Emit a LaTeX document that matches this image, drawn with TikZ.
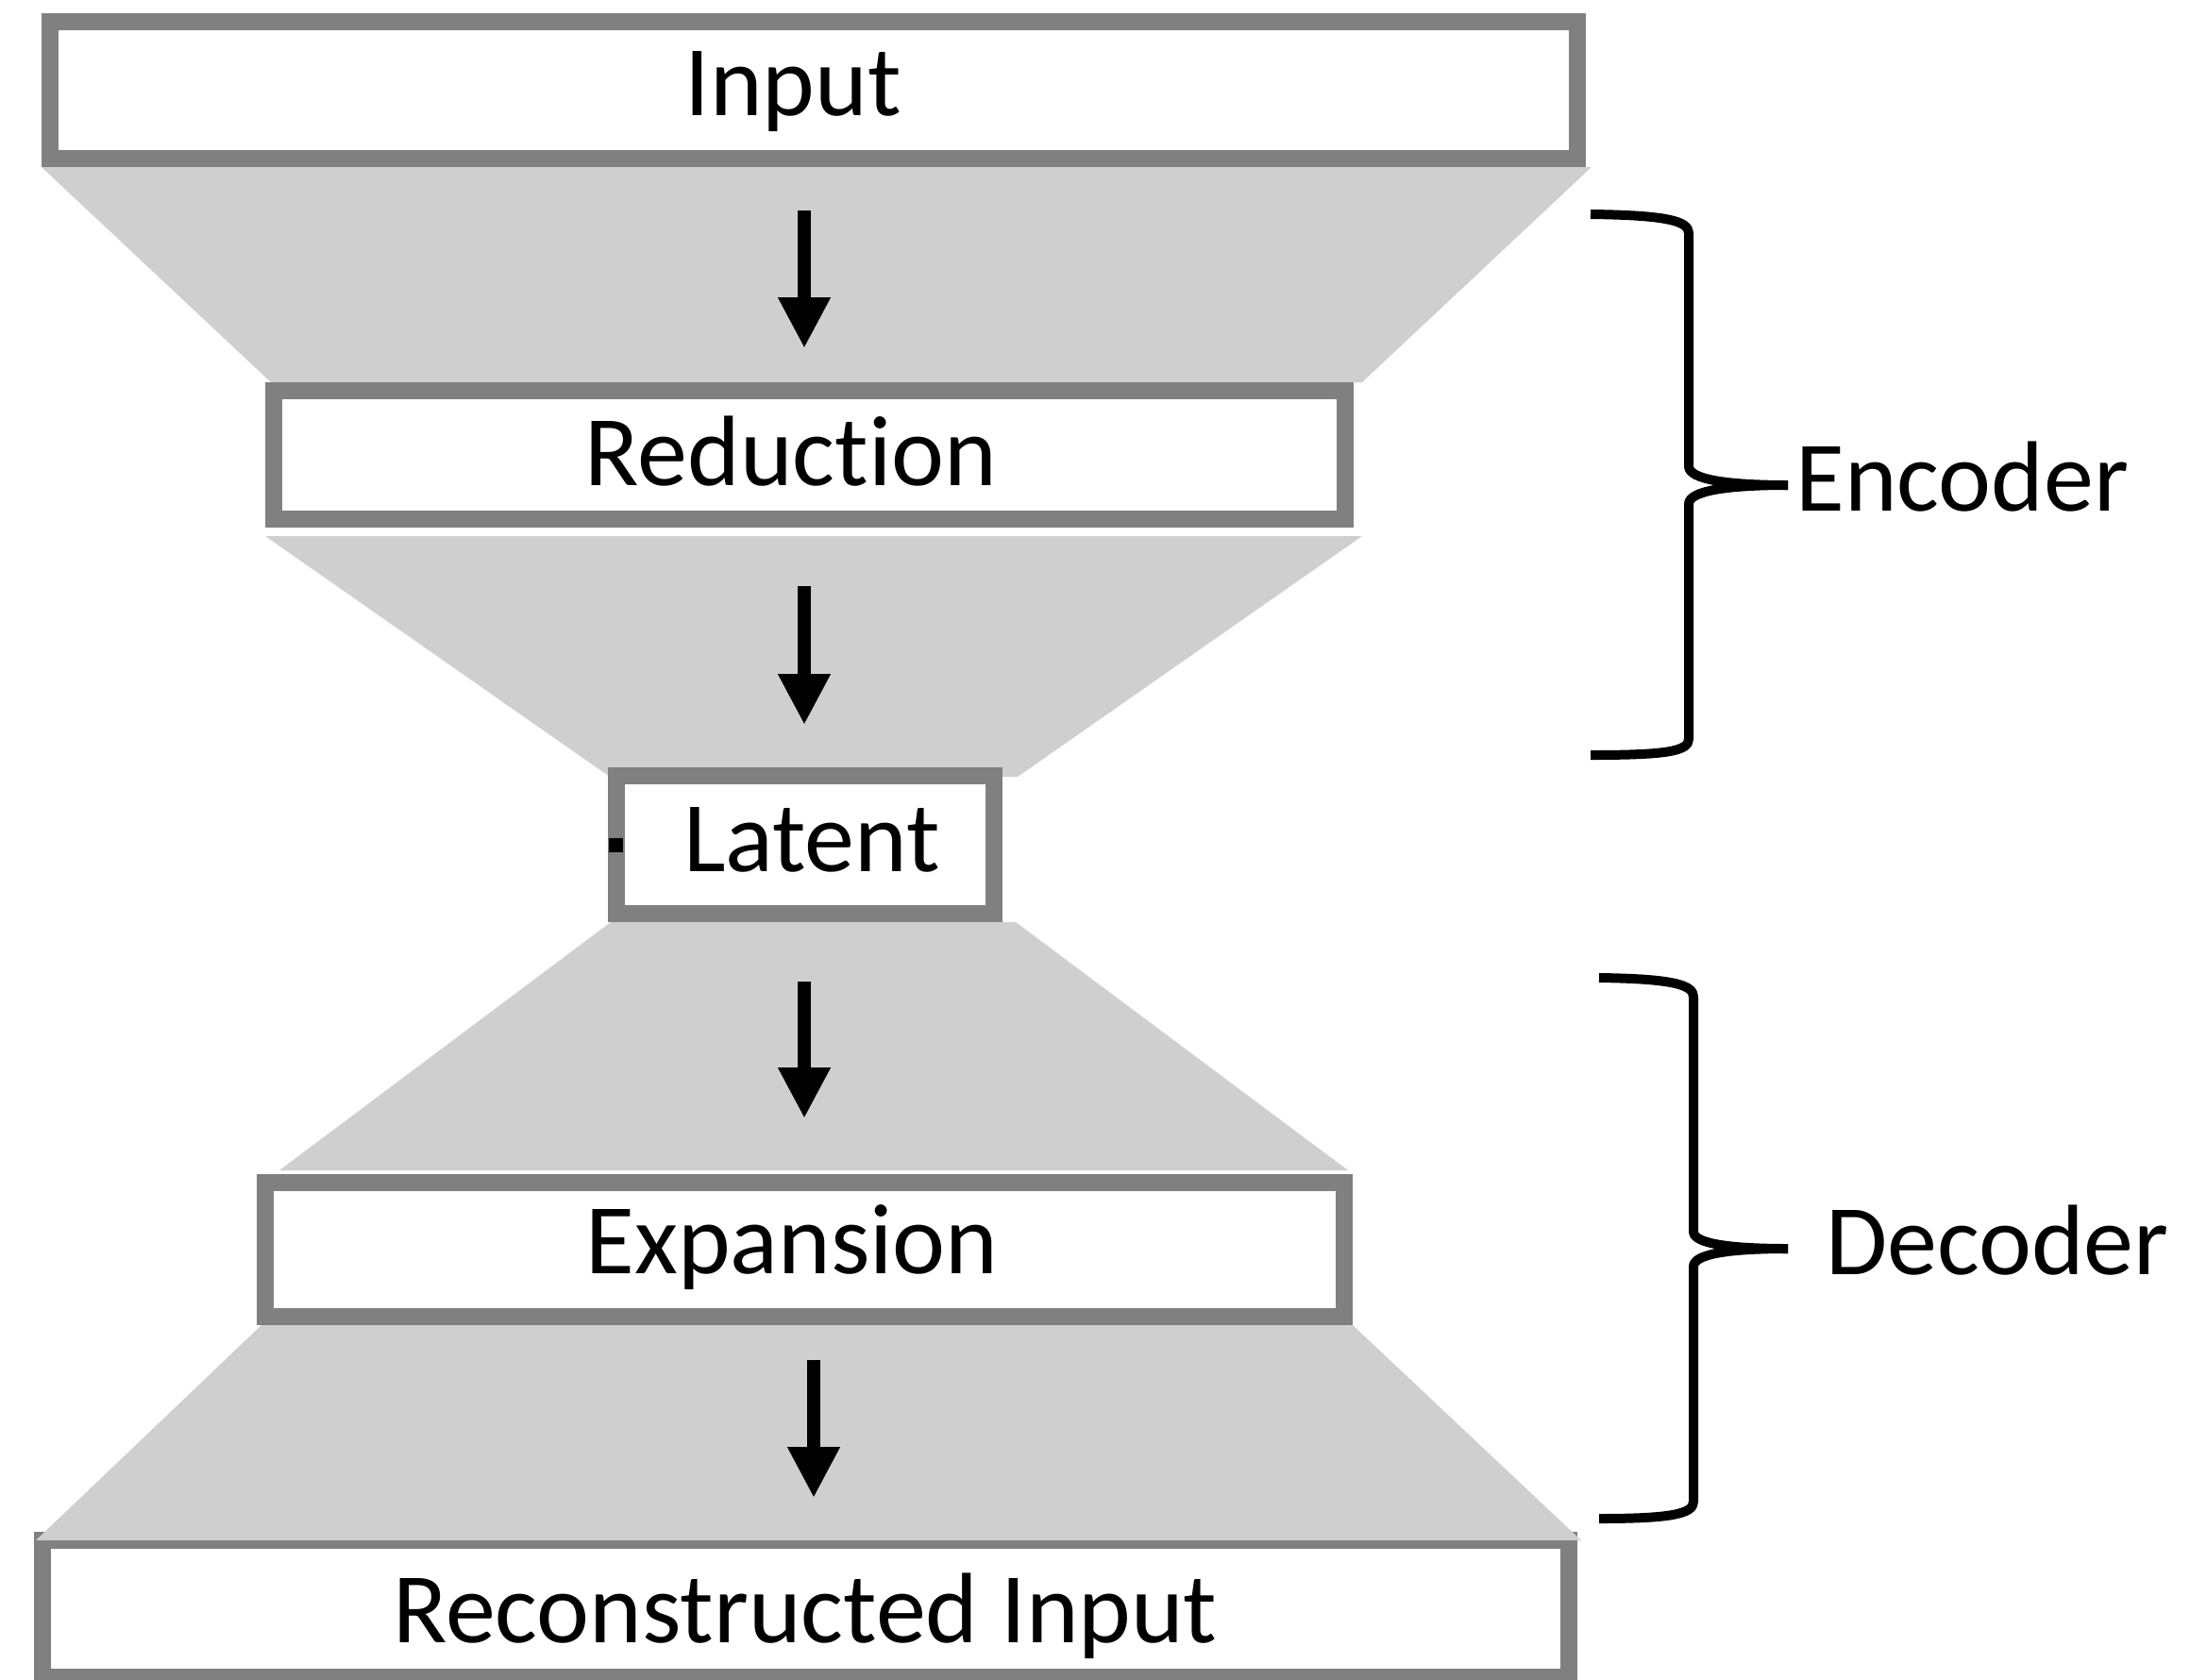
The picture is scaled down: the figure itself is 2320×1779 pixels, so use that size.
\documentclass[tikz,border=0pt]{standalone}
\usepackage{fontspec}
\setmainfont{Carlito}[Ligatures={NoCommon,NoRequired,NoContextual}]
\usetikzlibrary{arrows.meta,fit}
\definecolor{boxgray}{RGB}{128,128,128}
\definecolor{funnel}{RGB}{208,207,208}
\begin{document}
\begin{tikzpicture}[x=0.5pt,y=-0.5pt,
  stage/.style={draw=boxgray, line width=9pt, fill=white, inner sep=0pt, rectangle},
  funnelshape/.style={fill=funnel, draw=none},
  lbl/.style={anchor=base, inner sep=0pt, font=\fontsize{53pt}{60pt}\selectfont},
  flow/.style={line width=7pt, -{Triangle[width=26pt,length=27pt]}},
  brace/.style={line width=5pt, line cap=butt, line join=round}]
\clip (0,0) rectangle (2320,1779);
\fill[white] (0,0) rectangle (2320,1779);
% reconstructed input box (under the last funnel)
\node[stage, fit={(45,1632) (1662,1777)}] (recon) {};
% funnels
\fill[funnelshape] (44,177) -- (1686,177) -- (1443,405) -- (287,405) -- cycle;
\fill[funnelshape] (281,568) -- (1443,568) -- (1078,823) -- (646,823) -- cycle;
\fill[funnelshape] (647,977) -- (1076,977) -- (1428,1240) -- (296,1240) -- cycle;
\fill[funnelshape] (277,1404) -- (1433,1404) -- (1675,1632) -- (38,1632) -- cycle;
% boxes
\node[stage, fit={(53,23) (1671,168)}] (input) {};
\node[stage, fit={(290,414) (1425,550)}] (reduction) {};
\node[stage, fit={(653,822) (1053,968)}] (latent) {};
\node[stage, fit={(281,1253) (1424,1395)}] (expansion) {};
% labels
\node[lbl] (inputtxt) at (840,122) {Input};
\node[lbl] (reductiontxt) at (838,514) {Reduction};
\node[lbl] (latenttxt) at (860,923) {Latent};
\node[lbl] (expansiontxt) at (839,1349) {Expansion};
\node[lbl] (recontxt) at (853,1740) {Reconstructed Input};
% arrows
\coordinate (a1s) at (852,223); \coordinate (a1e) at (852,369);
\coordinate (a2s) at (852,621); \coordinate (a2e) at (852,768);
\coordinate (a3s) at (852,1040); \coordinate (a3e) at (852,1185);
\coordinate (a4s) at (862,1441); \coordinate (a4e) at (862,1587);
\draw[flow] (a1s) -- (a1e);
\draw[flow] (a2s) -- (a2e);
\draw[flow] (a3s) -- (a3e);
\draw[flow] (a4s) -- (a4e);
% small mark on latent border
\fill[black] (645,888) rectangle (660,903);
% encoder brace
\draw[brace] (1685,227) .. controls (1765,228) and (1789,234) .. (1789,247) -- (1789,494) .. controls (1789,508) and (1830,514) .. (1894,514);
\draw[brace] (1894,514) .. controls (1830,514) and (1789,520) .. (1789,534) -- (1789,783) .. controls (1789,796) and (1765,800) .. (1685,800);
\node[lbl, anchor=base west] (encoder) at (1902,541) {Encoder};
% decoder brace
\draw[brace] (1694,1036) .. controls (1770,1037) and (1794,1043) .. (1794,1056) -- (1794,1305) .. controls (1794,1318) and (1835,1323) .. (1894,1323);
\draw[brace] (1894,1323) .. controls (1835,1323) and (1794,1328) .. (1794,1342) -- (1794,1591) .. controls (1794,1604) and (1770,1609) .. (1694,1609);
\node[lbl, anchor=base west] (decoder) at (1934,1350) {Decoder};
\end{tikzpicture}
\end{document}
